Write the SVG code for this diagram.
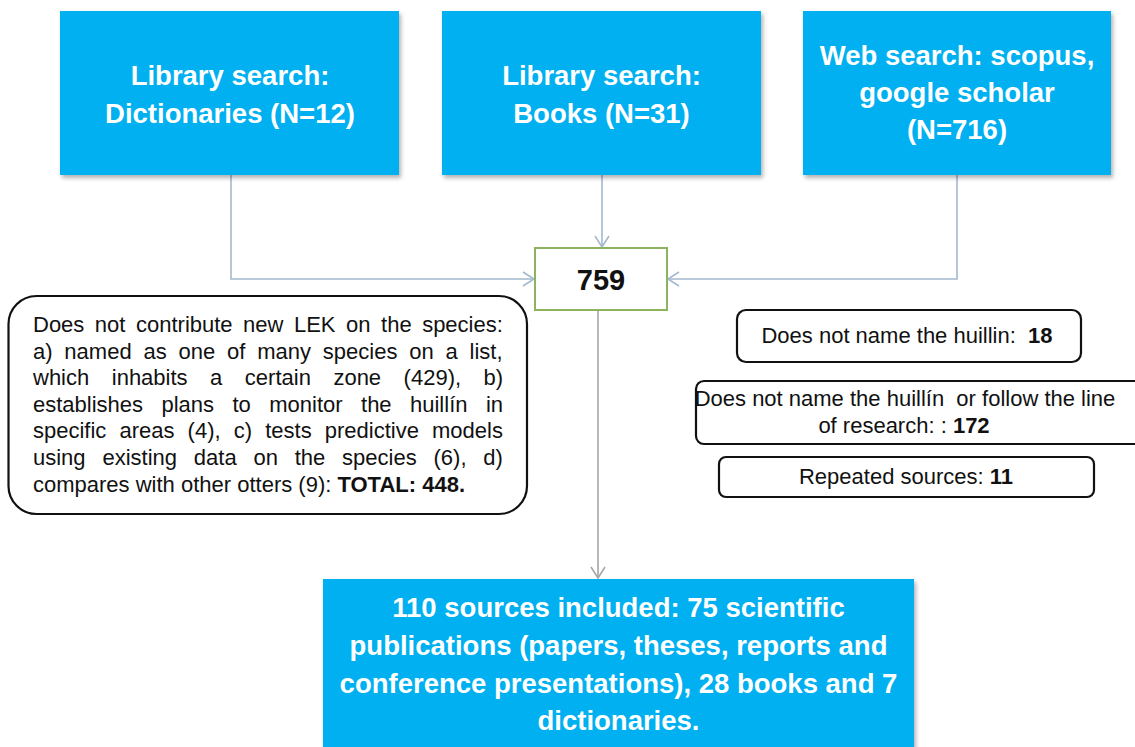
<svg xmlns="http://www.w3.org/2000/svg" width="1135" height="747" viewBox="0 0 1135 747">
<defs>
<style>
.blue{fill:#00B0F0;filter:url(#sh)}
.bt{font-family:"Liberation Sans",Arial,sans-serif;font-weight:bold;font-size:27.5px;fill:#fff;text-anchor:middle}
.tx{font-family:"Liberation Sans",Arial,sans-serif;font-size:22px;fill:#111}
.b{font-weight:bold}
.rb{fill:#fff;stroke:#111;stroke-width:2.2}
.con{fill:none;stroke:#A3B9CF;stroke-width:1.6}
.con2{fill:none;stroke:#A6A6A6;stroke-width:1.6}
</style>
<filter id="sh" x="-5%" y="-5%" width="115%" height="120%">
<feDropShadow dx="2" dy="3" stdDeviation="2" flood-color="#000" flood-opacity="0.3"/>
</filter>
<marker id="ah" markerUnits="userSpaceOnUse" markerWidth="16" markerHeight="18" refX="12" refY="8" orient="auto">
<path d="M1,1 L12,8 L1,15" fill="none" stroke="#A3B9CF" stroke-width="1.6"/>
</marker>
<marker id="ah2" markerUnits="userSpaceOnUse" markerWidth="16" markerHeight="18" refX="12" refY="8" orient="auto">
<path d="M1,1 L12,8 L1,15" fill="none" stroke="#A6A6A6" stroke-width="1.6"/>
</marker>
</defs>
<rect width="1135" height="747" fill="#fff"/>

<g id="connectors">
<path class="con" d="M231,175 V279 H534" marker-end="url(#ah)"/>
<path class="con" d="M602,175 V247" marker-end="url(#ah)"/>
<path class="con" d="M957,175 V279 H668" marker-end="url(#ah)"/>
<path class="con2" d="M598,310 V578" marker-end="url(#ah2)"/>
</g>

<g id="dictionaries">
<rect class="blue" x="60" y="11" width="339" height="164"/>
<text class="bt" x="230" y="84.5">Library search:</text>
<text class="bt" x="230" y="122.5">Dictionaries (N=12)</text>
</g>

<g id="books">
<rect class="blue" x="442" y="11" width="319" height="164"/>
<text class="bt" x="601.5" y="84.5">Library search:</text>
<text class="bt" x="601.5" y="122.5">Books (N=31)</text>
</g>

<g id="web">
<rect class="blue" x="803" y="11" width="308" height="164"/>
<text class="bt" x="957" y="65">Web search: scopus,</text>
<text class="bt" x="957" y="102">google scholar</text>
<text class="bt" x="957" y="139">(N=716)</text>
</g>

<g id="total">
<rect x="535" y="248" width="132" height="62" fill="#fff" stroke="#8DB360" stroke-width="2"/>
<text x="601" y="290" font-family="'Liberation Sans',Arial,sans-serif" font-weight="bold" font-size="29" text-anchor="middle" fill="#111">759</text>
</g>

<g id="excluded-lek">
<rect class="rb" x="8.5" y="296" width="518.5" height="218" rx="28" stroke-width="2.6"/>
<text class="tx">
<tspan x="33" y="332" style="word-spacing:4.4px">Does not contribute new LEK on the species:</tspan>
<tspan x="33" y="358.6" style="word-spacing:5.7px">a) named as one of many species on a list,</tspan>
<tspan x="33" y="385.2" style="word-spacing:16.4px">which inhabits a certain zone (429), b)</tspan>
<tspan x="33" y="411.8" style="word-spacing:12.3px">establishes plans to monitor the huillín in</tspan>
<tspan x="33" y="438.4" style="word-spacing:7px">specific areas (4), c) tests predictive models</tspan>
<tspan x="33" y="465" style="word-spacing:10.7px">using existing data on the species (6), d)</tspan>
<tspan x="33" y="491.6">compares with other otters (9): <tspan class="b">TOTAL: 448.</tspan></tspan>
</text>
</g>

<g id="not-name">
<rect class="rb" x="737" y="310" width="344" height="52" rx="9"/>
<text class="tx" x="907" y="343" text-anchor="middle" xml:space="preserve">Does not name the huillin:  <tspan class="b">18</tspan></text>
</g>

<g id="not-line">
<rect class="rb" x="696" y="381" width="470" height="63" rx="8"/>
<text class="tx" x="905" y="406" text-anchor="middle" xml:space="preserve">Does not name the huillín  or follow the line</text>
<text class="tx" x="904" y="433" text-anchor="middle">of research: : <tspan class="b">172</tspan></text>
</g>

<g id="repeated">
<rect class="rb" x="719" y="457" width="375" height="40" rx="7"/>
<text class="tx" x="906" y="484" text-anchor="middle">Repeated sources: <tspan class="b">11</tspan></text>
</g>

<g id="included">
<rect class="blue" x="323" y="579" width="591" height="180"/>
<text class="bt" x="618.5" y="617">110 sources included: 75 scientific</text>
<text class="bt" x="618.5" y="655">publications (papers, theses, reports and</text>
<text class="bt" x="618.5" y="693">conference presentations), 28 books and 7</text>
<text class="bt" x="618.5" y="730">dictionaries.</text>
</g>
</svg>
